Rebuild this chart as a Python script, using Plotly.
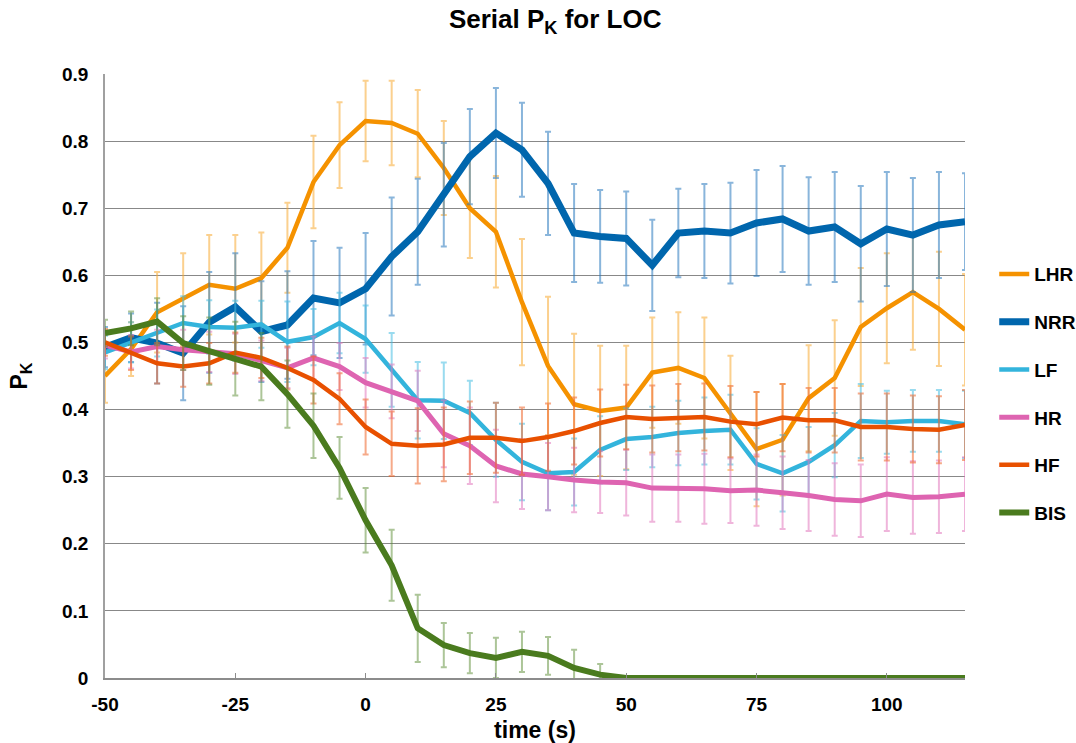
import plotly.graph_objects as go

time_s = [-50, -45, -40, -35, -30, -25, -20, -15, -10, -5, 0, 5, 10, 15, 20, 25, 30,
          35, 40, 45, 50, 55, 60, 65, 70, 75, 80, 85, 90, 95, 100, 105, 110, 115]

lhr = [0.45, 0.49, 0.545, 0.565, 0.586, 0.58, 0.596, 0.641, 0.739, 0.794, 0.83, 0.827,
       0.811, 0.76, 0.70, 0.665, 0.56, 0.465, 0.408, 0.398, 0.403, 0.455, 0.462, 0.447,
       0.395, 0.341, 0.355, 0.417, 0.447, 0.523, 0.551, 0.575, 0.55, 0.519]
lhr_err = [0.04, 0.04, 0.06, 0.068, 0.074, 0.08, 0.068, 0.067, 0.069, 0.064, 0.06, 0.063,
           0.065, 0.07, 0.074, 0.083, 0.094, 0.103, 0.105, 0.097, 0.092, 0.082, 0.083, 0.09,
           0.085, 0.085, 0.083, 0.079, 0.086, 0.088, 0.082, 0.086, 0.085, 0.083]

nrr = [0.493, 0.507, 0.499, 0.484, 0.53, 0.553, 0.516, 0.526, 0.566, 0.559, 0.58, 0.628,
       0.665, 0.72, 0.777, 0.812, 0.787, 0.737, 0.663, 0.658, 0.655, 0.615, 0.663, 0.666,
       0.663, 0.678, 0.684, 0.666, 0.672, 0.647, 0.669, 0.66, 0.675, 0.68]
nrr_err = [0.03, 0.036, 0.06, 0.07, 0.075, 0.08, 0.075, 0.08, 0.085, 0.082, 0.083, 0.088,
           0.079, 0.077, 0.071, 0.067, 0.07, 0.077, 0.073, 0.069, 0.07, 0.068, 0.066, 0.07,
           0.075, 0.079, 0.079, 0.08, 0.082, 0.086, 0.085, 0.085, 0.079, 0.072]

lf = [0.485, 0.50, 0.514, 0.529, 0.523, 0.522, 0.527, 0.501, 0.508, 0.529, 0.505, 0.459,
      0.414, 0.413, 0.395, 0.355, 0.322, 0.305, 0.307, 0.34, 0.356, 0.359, 0.365, 0.368,
      0.37, 0.319, 0.305, 0.322, 0.347, 0.383, 0.381, 0.383, 0.383, 0.378]
lf_err = [0.025, 0.03, 0.035, 0.04, 0.04, 0.04, 0.035, 0.06, 0.042, 0.045, 0.05, 0.055,
          0.057, 0.057, 0.048, 0.055, 0.057, 0.055, 0.05, 0.05, 0.046, 0.045, 0.048, 0.05,
          0.052, 0.053, 0.057, 0.052, 0.048, 0.055, 0.047, 0.046, 0.046, 0.05]

hr = [0.496, 0.486, 0.494, 0.489, 0.486, 0.483, 0.473, 0.462, 0.477, 0.464, 0.44, 0.427,
      0.413, 0.364, 0.346, 0.316, 0.304, 0.30, 0.295, 0.292, 0.291, 0.283, 0.283, 0.282,
      0.279, 0.28, 0.276, 0.272, 0.266, 0.264, 0.274, 0.269, 0.27, 0.274]
hr_err = [0.02, 0.025, 0.025, 0.03, 0.03, 0.03, 0.03, 0.03, 0.032, 0.035, 0.037, 0.04,
          0.045, 0.05, 0.057, 0.054, 0.052, 0.05, 0.048, 0.046, 0.049, 0.05, 0.05, 0.052,
          0.048, 0.053, 0.054, 0.053, 0.054, 0.054, 0.055, 0.054, 0.054, 0.055]

hf = [0.50, 0.484, 0.469, 0.464, 0.469, 0.485, 0.477, 0.462, 0.444, 0.416, 0.374, 0.349,
      0.346, 0.348, 0.358, 0.358, 0.353, 0.359, 0.368, 0.38, 0.389, 0.386, 0.388, 0.389,
      0.382, 0.378, 0.388, 0.384, 0.384, 0.374, 0.374, 0.371, 0.37, 0.377]
hf_err = [0.02, 0.025, 0.03, 0.03, 0.03, 0.03, 0.03, 0.032, 0.035, 0.038, 0.041, 0.048,
          0.056, 0.055, 0.054, 0.052, 0.05, 0.05, 0.05, 0.05, 0.048, 0.05, 0.05, 0.05,
          0.053, 0.048, 0.05, 0.048, 0.048, 0.05, 0.05, 0.05, 0.05, 0.052]

bis = [0.514, 0.521, 0.531, 0.499, 0.487, 0.476, 0.464, 0.423, 0.376, 0.313, 0.235, 0.168,
       0.074, 0.049, 0.037, 0.03, 0.039, 0.033, 0.015, 0.005, 0.0, 0.0, 0.0, 0.0,
       0.0, 0.0, 0.0, 0.0, 0.0, 0.0, 0.0, 0.0, 0.0, 0.0]
bis_err = [0.02, 0.025, 0.035, 0.04, 0.05, 0.055, 0.05, 0.05, 0.048, 0.046, 0.048, 0.053,
           0.05, 0.033, 0.03, 0.03, 0.03, 0.028, 0.027, 0.016, 0.003, 0.0, 0.0, 0.0,
           0.0, 0.0, 0.0, 0.0, 0.0, 0.0, 0.0, 0.0, 0.0, 0.0]

x_ticks = [-50, -25, 0, 25, 50, 75, 100]
x_ticklabels = ["-50", "-25", "0", "25", "50", "75", "100"]
y_ticks = [0, 0.1, 0.2, 0.3, 0.4, 0.5, 0.6, 0.7, 0.8, 0.9]
y_ticklabels = ["0", "0.1", "0.2", "0.3", "0.4", "0.5", "0.6", "0.7", "0.8", "0.9"]

# name, values, errors, line colour, error colour, line width
series = [
    ("LHR", lhr, lhr_err, "#F59200", "rgba(248,170,50,0.55)", 4.5),
    ("NRR", nrr, nrr_err, "#0066AD", "rgba(40,120,190,0.55)", 7),
    ("LF", lf, lf_err, "#33B4DC", "rgba(70,190,225,0.55)", 4.5),
    ("HR", hr, hr_err, "#DE64B1", "rgba(225,120,190,0.55)", 5),
    ("HF", hf, hf_err, "#E85000", "rgba(238,100,40,0.55)", 4.5),
    ("BIS", bis, bis_err, "#4A7B1E", "rgba(90,140,50,0.5)", 6),
]

FONT = "Liberation Sans, Arial, sans-serif"

fig = go.Figure()
for name, vals, errs, col, ecol, lw in series:
    fig.add_trace(go.Scatter(
        x=time_s, y=vals, name=name, mode="lines",
        line=dict(color=col, width=lw),
        error_y=dict(type="data", array=errs, visible=True,
                     color=ecol, thickness=2, width=3),
        legendgroup=name,
    ))

fig.update_layout(
    width=1076, height=743,
    paper_bgcolor="white", plot_bgcolor="white",
    margin=dict(l=105, r=111, t=74, b=65, autoexpand=False),
    font=dict(family=FONT, size=19, color="black", weight="bold"),
    title=dict(text="Serial P<sub>K</sub> for LOC", x=0.516, xanchor="center",
               y=0.974, yanchor="middle",
               font=dict(family=FONT, size=26, color="black", weight="bold")),
    legend=dict(x=1.034, xanchor="left", y=0.7, yanchor="top",
                font=dict(family=FONT, size=19, color="black", weight="bold"),
                tracegroupgap=20, itemwidth=30, bgcolor="rgba(0,0,0,0)"),
    showlegend=True,
)

fig.update_xaxes(
    range=[-50, 115], tickvals=x_ticks, ticktext=x_ticklabels,
    showgrid=False, zeroline=False, automargin=False,
    showline=True, linecolor="#8c8c8c", linewidth=1.5,
    ticks="inside", ticklen=5, tickcolor="#8c8c8c", ticklabelstandoff=8,
    title=dict(text="time (s)", standoff=19),
)
fig.update_yaxes(
    range=[0, 0.9], tickvals=y_ticks, ticktext=y_ticklabels,
    showgrid=True, gridcolor="#888888", gridwidth=1, automargin=False,
    zeroline=False, showline=True, linecolor="#a0a0a0", linewidth=1.5,
    ticks="", ticklabelstandoff=11,
    title=dict(text="P<sub>K</sub>", standoff=28),
)

# drop the page's default body margin so the figure fills the window exactly
fig.write_html("out.html", config={"displayModeBar": False},
               post_script="document.body.style.margin = '0';")
